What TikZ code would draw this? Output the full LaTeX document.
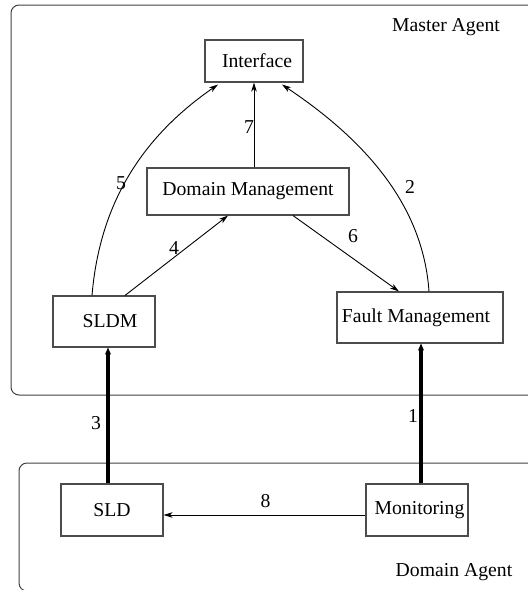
\documentclass[tikz,border=0pt]{standalone}
\usepackage{fontspec}
\setmainfont{Liberation Serif}
\usetikzlibrary{arrows.meta}
\begin{document}
\begin{tikzpicture}[x=1pt,y=-1pt,
  font=\fontsize{19.7}{23}\selectfont,
  box/.style={draw=black!70,line width=1.1pt,inner sep=0pt,align=center},
  agent/.style={draw=black!75,line width=1pt,rounded corners=8pt},
  thinarrow/.style={line width=0.9pt,-{Stealth[length=9pt,width=5.5pt,inset=2.5pt]}},
  thickarrow/.style={line width=4pt,-{Stealth[length=7pt,width=6pt,inset=2pt]}},
  num/.style={anchor=base,inner sep=0pt}]
\useasboundingbox (0,0) rectangle (528,590);
\clip (0,0) rectangle (528,590);
% agent frames
\draw[agent] (11,5) rectangle (545,395);
\draw[agent] (19,463) rectangle (545,591);
\node[num] (ma) at (446,31) {Master Agent};
\node[num] (da) at (454,576) {Domain Agent};
% boxes
\node[box,minimum width=98pt,minimum height=42pt] (iface) at (254,61) {\hspace*{6pt}Interface};
\node[box,minimum width=202pt,minimum height=47pt] (dm) at (248,191.5) {Domain Management};
\node[box,minimum width=102pt,minimum height=51pt] (sldm) at (104,321.5) {\hspace*{12pt}SLDM};
\node[box,minimum width=166pt,minimum height=51pt] (fm) at (420,317.5) {Fault Management\hspace*{8pt}};
\node[box,minimum width=102pt,minimum height=52pt] (sld) at (112,510) {SLD};
\node[box,minimum width=102pt,minimum height=52pt] (mon) at (417,510) {\hspace*{5pt}Monitoring};
% connectors
\draw[thinarrow] (dm.north -| iface.south) -- (iface.south);
\draw[thinarrow] ([xshift=21pt]sldm.north) -- ([xshift=-20pt]dm.south);
\draw[thinarrow] ([xshift=45pt]dm.south) -- ([xshift=-21pt]fm.north);
\draw[thinarrow] ([xshift=-12pt]sldm.north) .. controls (100,200) and (145,135) .. ([xshift=-36pt,yshift=-2pt]iface.south);
\draw[thinarrow] ([xshift=9pt]fm.north) .. controls (423,205) and (365,140) .. ([xshift=28pt,yshift=-2pt]iface.south);
\coordinate (c3) at ([xshift=-4pt]sld.north);
\coordinate (c1) at ([xshift=4pt]mon.north);
\draw[thickarrow] (c3) -- (c3 |- sldm.south);
\draw[thickarrow] (c1) -- (c1 |- fm.south);
\draw[thinarrow] ([yshift=-5pt]mon.west) -- ([yshift=-5pt]sld.east);
% labels
\node[num] (n7) at (249,133) {7};
\node[num] (n5) at (121,189) {5};
\node[num] (n2) at (410,193) {2};
\node[num] (n4) at (174,254) {4};
\node[num] (n6) at (353,242) {6};
\node[num] (n3) at (96,429) {3};
\node[num] (n1) at (413,422) {1};
\node[num] (n8) at (265.5,507) {8};
\end{tikzpicture}
\end{document}
